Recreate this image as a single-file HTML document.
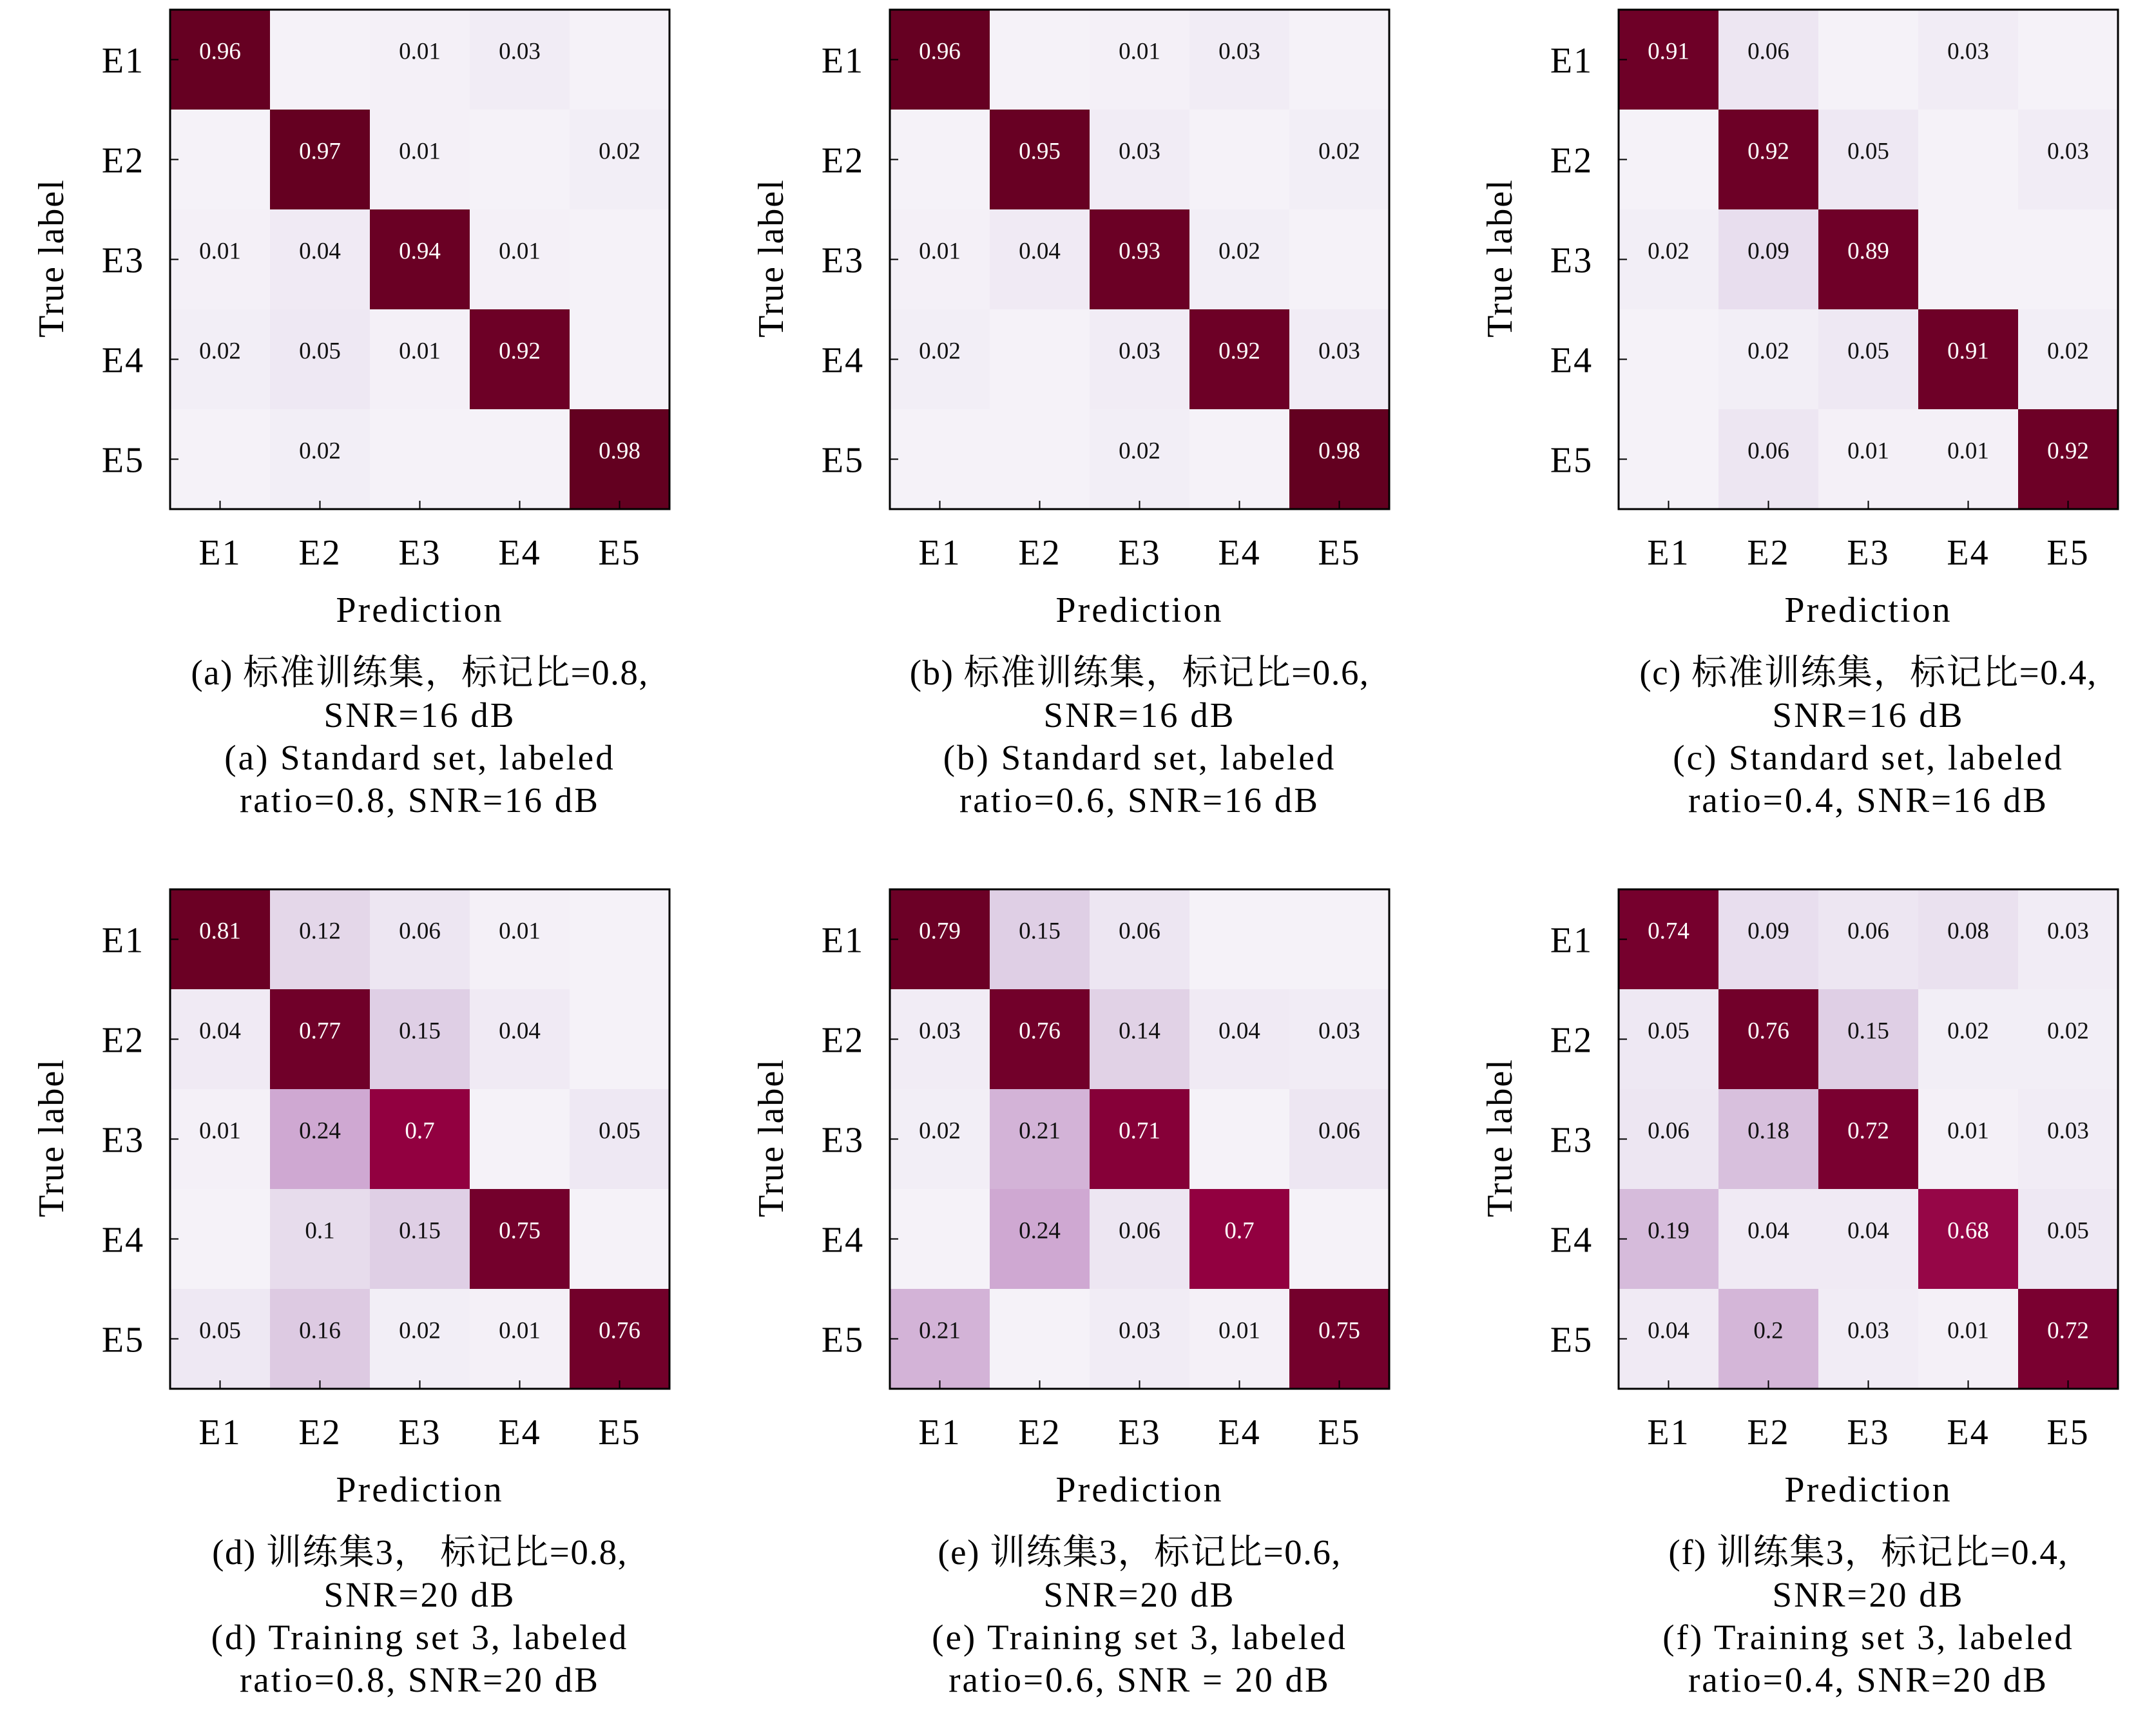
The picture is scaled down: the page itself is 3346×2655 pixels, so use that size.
<!DOCTYPE html>
<html><head><meta charset="utf-8"><style>
body{margin:0;background:#fff}
svg{display:block}
text{font-family:"Liberation Serif","Noto Serif CJK SC",serif}
</style></head><body>
<svg id="c" width="3346" height="2655" viewBox="0 0 3346 2655"></svg>
<script>
const classes=["E1","E2","E3","E4","E5"];
const matA=[[.96,0,.01,.03,0],[0,.97,.01,0,.02],[.01,.04,.94,.01,0],[.02,.05,.01,.92,0],[0,.02,0,0,.98]];
const matB=[[.96,0,.01,.03,0],[0,.95,.03,0,.02],[.01,.04,.93,.02,0],[.02,0,.03,.92,.03],[0,0,.02,0,.98]];
const matC=[[.91,.06,0,.03,0],[0,.92,.05,0,.03],[.02,.09,.89,0,0],[0,.02,.05,.91,.02],[0,.06,.01,.01,.92]];
const matD=[[.81,.12,.06,.01,0],[.04,.77,.15,.04,0],[.01,.24,.7,0,.05],[0,.1,.15,.75,0],[.05,.16,.02,.01,.76]];
const matE=[[.79,.15,.06,0,0],[.03,.76,.14,.04,.03],[.02,.21,.71,0,.06],[0,.24,.06,.7,0],[.21,0,.03,.01,.75]];
const matF=[[.74,.09,.06,.08,.03],[.05,.76,.15,.02,.02],[.06,.18,.72,.01,.03],[.19,.04,.04,.68,.05],[.04,.2,.03,.01,.72]];
const captions=[
["(a) 标准训练集，标记比=0.8,","SNR=16 dB","(a) Standard set, labeled","ratio=0.8, SNR=16 dB"],
["(b) 标准训练集，标记比=0.6,","SNR=16 dB","(b) Standard set, labeled","ratio=0.6, SNR=16 dB"],
["(c) 标准训练集，标记比=0.4,","SNR=16 dB","(c) Standard set, labeled","ratio=0.4, SNR=16 dB"],
["(d) 训练集3， 标记比=0.8,","SNR=20 dB","(d) Training set 3, labeled","ratio=0.8, SNR=20 dB"],
["(e) 训练集3，标记比=0.6,","SNR=20 dB","(e) Training set 3, labeled","ratio=0.6, SNR = 20 dB"],
["(f) 训练集3，标记比=0.4,","SNR=20 dB","(f) Training set 3, labeled","ratio=0.4, SNR=20 dB"]];
const mats=[matA,matB,matC,matD,matE,matF];
const NS="http://www.w3.org/2000/svg";
const svg=document.getElementById("c");
const lefts=[264,1381,2512], tops=[15,1380], W=775, H=775;
const stops=[[0,[245,242,248]],[.06,[237,230,242]],[.15,[223,207,229]],[.2,[212,182,216]],[.24,[207,168,210]],[.45,[200,80,150]],[.7,[146,0,64]],[.72,[122,0,48]],[.76,[114,0,42]],[.8,[106,0,36]],[.9,[112,0,40]],[1,[96,0,30]]];
function col(v){for(let i=1;i<stops.length;i++){if(v<=stops[i][0]){const a=stops[i-1],b=stops[i],t=(v-a[0])/(b[0]-a[0]);return "rgb("+a[1].map((c,k)=>Math.round(c+(b[1][k]-c)*t)).join(",")+")";}}return "rgb(96,0,30)";}
function el(tag,attrs,txt){const e=document.createElementNS(NS,tag);for(const k in attrs)e.setAttribute(k,attrs[k]);if(txt!==undefined)e.textContent=txt;svg.appendChild(e);return e;}
mats.forEach((m,p)=>{
 const x0=lefts[p%3], y0=tops[Math.floor(p/3)], cw=W/5, ch=H/5;
 const xs=j=>x0+j*cw, ys=i=>y0+i*ch;
 m.forEach((row,i)=>row.forEach((v,j)=>{
  const r=el("rect",{x:xs(j),y:ys(i),width:cw+0.5,height:ch+0.5,fill:col(v)});
  
  
  if(v>0){const t=el("text",{x:xs(j)+cw/2,y:ys(i)+ch*0.44,"font-size":37,"text-anchor":"middle","dominant-baseline":"middle",fill:v>0.5?"#fff":"#111"},String(v));
  
  }
 }));
 const b=el("rect",{x:x0,y:y0,width:W,height:H,fill:"none",stroke:"#000","stroke-width":3});
 
 
 classes.forEach((c,k)=>{
  el("line",{x1:x0,x2:x0+13,y1:ys(k)+ch/2,y2:ys(k)+ch/2,stroke:"#000","stroke-width":2});
  el("line",{x1:xs(k)+cw/2,x2:xs(k)+cw/2,y1:y0+H,y2:y0+H-13,stroke:"#000","stroke-width":2});
  const yl=el("text",{x:x0-73,y:ys(k)+ch/2+20,"font-size":56,"text-anchor":"middle","letter-spacing":2},c);
  
  
  const xl=el("text",{x:xs(k)+cw/2,y:y0+H+86,"font-size":56,"text-anchor":"middle","letter-spacing":2},c);
  
  
 });
 const xt=el("text",{x:x0+W/2,y:y0+H+175,"font-size":56,"text-anchor":"middle","letter-spacing":3},"Prediction");
 
 
 const cx=x0-179, cy=y0+H/2-2;
 const yt=el("text",{x:cx,y:cy,"font-size":56,"text-anchor":"middle",transform:"rotate(-90 "+cx+" "+cy+")","dominant-baseline":"middle","letter-spacing":2},"True label");
 
 
 captions[p].forEach((line,k)=>{
  const t=el("text",{x:x0+W/2,y:y0+H+272+k*66,"font-size":55,"text-anchor":"middle","letter-spacing":k%2==0&&k==0?1.5:3},line);
  
  
 });
});
</script>
</body></html>
